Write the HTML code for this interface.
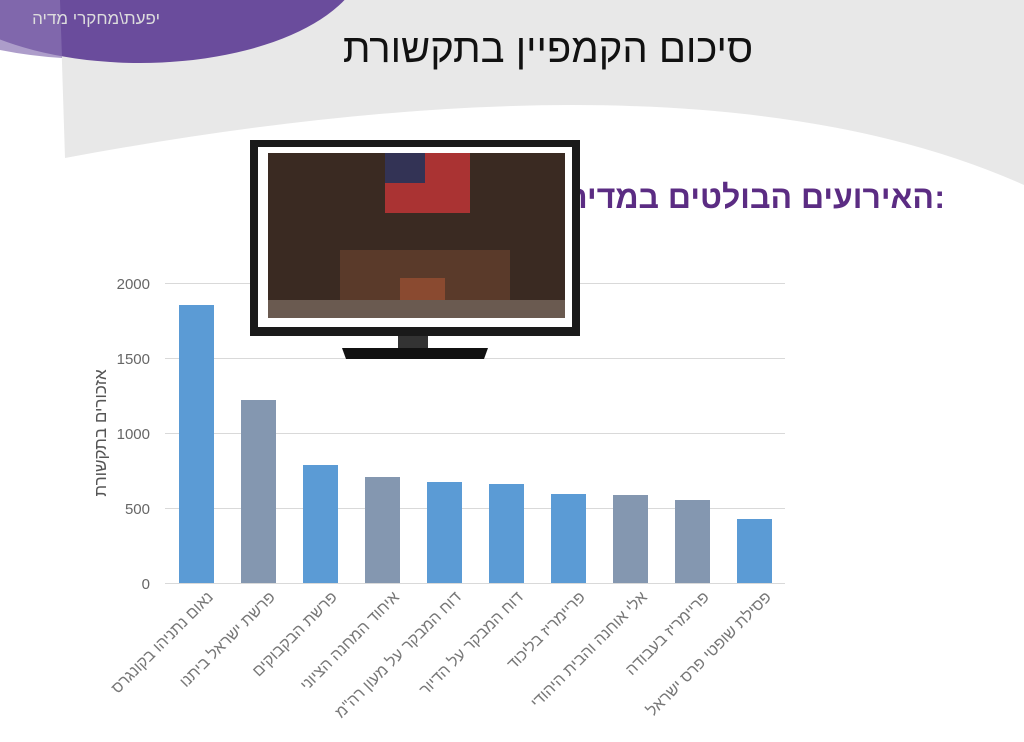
<!DOCTYPE html>
<html><head><meta charset="utf-8"><style>
body{margin:0;width:1024px;height:742px;overflow:hidden;background:#fff;font-family:"Liberation Sans","Noto Sans CJK SC",sans-serif;position:relative}
.abs{position:absolute}
</style></head><body>
<svg class="abs" style="left:0;top:0" width="1024" height="742">
<path d="M60,0 L1024,0 L1024,185 Q700,40 65,158 Z" fill="#e8e8e8"/>
<ellipse cx="140" cy="-45" rx="225" ry="108" fill="#6a4c9c"/>
<path d="M0,0 L60,0 L62,58 Q30,56 0,50 Z" fill="#8a74b4" opacity="0.7"/>
<text x="160" y="24" font-size="17" fill="#ddd" text-anchor="start" direction="rtl" font-family="Liberation Sans,Noto Sans CJK SC,sans-serif">יפעת\מחקרי מדיה</text>
<text x="548" y="62" font-size="40" text-anchor="middle" fill="#111" font-family="Liberation Sans,Noto Sans CJK SC,sans-serif" direction="rtl">סיכום הקמפיין בתקשורת</text>
<text x="945" y="208" font-size="32" font-weight="bold" fill="#5b2c83" text-anchor="end">:</text>
<text x="934" y="208" font-size="32" font-weight="bold" fill="#5b2c83" text-anchor="start" direction="rtl" font-family="Liberation Sans,Noto Sans CJK SC,sans-serif">האירועים הבולטים במדיה</text>
<g stroke="#d9d9d9" stroke-width="1">
<line x1="165" x2="785" y1="283.5" y2="283.5"/><line x1="165" x2="785" y1="358.5" y2="358.5"/>
<line x1="165" x2="785" y1="433.5" y2="433.5"/><line x1="165" x2="785" y1="508.5" y2="508.5"/>
<line x1="165" x2="785" y1="583.5" y2="583.5"/></g>
<g font-size="15" fill="#666" text-anchor="end">
<text x="150" y="289">2000</text><text x="150" y="364">1500</text><text x="150" y="439">1000</text><text x="150" y="514">500</text><text x="150" y="589">0</text></g>
<text transform="translate(106,433) rotate(-90)" font-size="17" fill="#555" text-anchor="middle" direction="rtl">אזכורים בתקשורת</text>
<g>
<rect x="179" y="305" width="35" height="278" fill="#5b9bd5"/>
<rect x="241" y="400" width="35" height="183" fill="#8497b0"/>
<rect x="303" y="465" width="35" height="118" fill="#5b9bd5"/>
<rect x="365" y="477" width="35" height="106" fill="#8497b0"/>
<rect x="427" y="482" width="35" height="101" fill="#5b9bd5"/>
<rect x="489" y="484" width="35" height="99" fill="#5b9bd5"/>
<rect x="551" y="494" width="35" height="89" fill="#5b9bd5"/>
<rect x="613" y="495" width="35" height="88" fill="#8497b0"/>
<rect x="675" y="500" width="35" height="83" fill="#8497b0"/>
<rect x="737" y="519" width="35" height="64" fill="#5b9bd5"/>
</g>
<g font-size="16" fill="#777" direction="rtl">
<text transform="translate(214,598) rotate(-45)" text-anchor="start">נאום נתניהו בקונגרס</text>
<text transform="translate(276,598) rotate(-45)" text-anchor="start">פרשת ישראל ביתנו</text>
<text transform="translate(338,598) rotate(-45)" text-anchor="start">פרשת הבקבוקים</text>
<text transform="translate(400,598) rotate(-45)" text-anchor="start">איחוד המחנה הציוני</text>
<text transform="translate(462,598) rotate(-45)" text-anchor="start">דוח המבקר על מעון רה"מ</text>
<text transform="translate(524,598) rotate(-45)" text-anchor="start">דוח המבקר על הדיור</text>
<text transform="translate(586,598) rotate(-45)" text-anchor="start">פריימריז בליכוד</text>
<text transform="translate(648,598) rotate(-45)" text-anchor="start">אלי אוחנה והבית היהודי</text>
<text transform="translate(710,598) rotate(-45)" text-anchor="start">פריימריז בעבודה</text>
<text transform="translate(772,598) rotate(-45)" text-anchor="start">פסילת שופטי פרס ישראל</text>
</g>
<!-- TV -->
<rect x="250" y="140" width="330" height="196" fill="#1a1a1a"/>
<rect x="258" y="147" width="314" height="180" fill="#fff"/>
<rect x="268" y="153" width="297" height="165" fill="#3a2a22"/>
<rect x="385" y="153" width="85" height="60" fill="#a33"/>
<rect x="385" y="153" width="40" height="30" fill="#335"/>
<rect x="340" y="250" width="170" height="50" fill="#5a3a2a"/>
<rect x="400" y="278" width="45" height="40" fill="#8a4a30"/>
<rect x="268" y="300" width="297" height="18" fill="#6a5a50"/>
<rect x="398" y="336" width="30" height="12" fill="#333"/>
<path d="M342,348 L488,348 L484,359 L346,359 Z" fill="#111"/>
</svg>
</body></html>
